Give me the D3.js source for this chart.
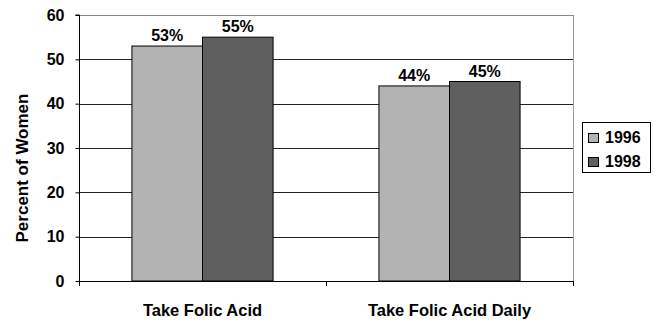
<!DOCTYPE html>
<html><head><meta charset="utf-8">
<script src="https://cdn.jsdelivr.net/npm/d3@7"></script>
<style>
body{margin:0;background:#fff;}
svg{display:block;font-family:"Liberation Sans",Arial,sans-serif;font-weight:bold;}
</style></head>
<body><svg id="c" width="654" height="320"></svg>
<script>
const categories = ["Take Folic Acid", "Take Folic Acid Daily"];
const seriesNames = ["1996", "1998"];
const values1996 = [53, 44];
const values1998 = [55, 45];
const yTicks = [0, 10, 20, 30, 40, 50, 60];
const colors = ["#b3b3b3", "#5f5f5f"];

const seriesVals = [values1996, values1998];
const svg = d3.select("#c");
const L = 79, R = 573, T = 15, B = 281;
const y = d3.scaleLinear().domain([0, 60]).range([B, T]);
const x = d3.scaleBand().domain(categories).range([L, R]).paddingInner(0).paddingOuter(0);
const xs = d3.scaleBand().domain(seriesNames).range([0, x.bandwidth()]).paddingInner(0).paddingOuter(0.75);

// gridlines
svg.append("g").selectAll("line").data(yTicks.filter(d => d > 0)).join("line")
  .attr("x1", L).attr("x2", R)
  .attr("y1", d => Math.round(y(d)) + 0.5).attr("y2", d => Math.round(y(d)) + 0.5)
  .attr("stroke", d => d === 60 ? "#888" : "#222").attr("stroke-width", 1);
// right border
svg.append("line").attr("x1", R + 0.5).attr("x2", R + 0.5).attr("y1", T).attr("y2", B)
  .attr("stroke", "#999");

// bars
const groups = svg.append("g").selectAll("g").data(categories).join("g")
  .attr("transform", d => `translate(${x(d)},0)`);
groups.selectAll("rect").data((c, i) => seriesNames.map((s, j) => ({s, v: seriesVals[j][i], j})))
  .join("rect")
  .attr("x", d => xs(d.s)).attr("width", xs.bandwidth())
  .attr("y", d => y(d.v)).attr("height", d => B - y(d.v))
  .attr("fill", d => colors[d.j]).attr("stroke", "#000").attr("stroke-width", 1);
groups.selectAll("text").data((c, i) => seriesNames.map((s, j) => ({s, v: seriesVals[j][i]})))
  .join("text")
  .attr("x", d => xs(d.s) + xs.bandwidth() / 2).attr("y", d => y(d.v) - 5)
  .attr("text-anchor", "middle").attr("font-size", 16).attr("fill", "#000")
  .text(d => d.v + "%");

// y axis
const yAxis = d3.axisLeft(y).tickValues(yTicks).tickSize(4).tickPadding(11);
const gy = svg.append("g").attr("transform", `translate(${L + 0.5},0)`).call(yAxis);
gy.select(".domain").attr("stroke", "#000").attr("d", `M-4,${T}H0V${B}`);
gy.selectAll(".tick line").attr("stroke", "#000");
gy.selectAll("text").attr("font-size", 16).attr("font-family", null).attr("font-weight", "bold").attr("fill", "#000");

// x axis
const xAxis = d3.axisBottom(x).tickSize(0).tickPadding(23);
const gx = svg.append("g").attr("transform", `translate(0,${B + 0.5})`).call(xAxis);
gx.select(".domain").attr("stroke", "#000").attr("d", `M${L},0H${R}`);
gx.selectAll("text").attr("font-size", 16.5).attr("font-family", null).attr("font-weight", "bold").attr("fill", "#000");
// category separator ticks
const sepX = [L, x(categories[1]), R];
svg.append("g").selectAll("line").data(sepX).join("line")
  .attr("x1", d => Math.round(d) + 0.5).attr("x2", d => Math.round(d) + 0.5)
  .attr("y1", B).attr("y2", B + 5).attr("stroke", "#000");

// y title
svg.append("text").attr("transform", "translate(28,168) rotate(-90)")
  .attr("text-anchor", "middle").attr("font-size", 17).attr("fill", "#000")
  .text("Percent of Women");

// legend
const lg = svg.append("g");
lg.append("rect").attr("x", 582.5).attr("y", 122.5).attr("width", 68).attr("height", 50)
  .attr("fill", "#fff").attr("stroke", "#000");
const li = lg.selectAll("g").data(seriesNames).join("g")
  .attr("transform", (d, i) => `translate(588,${133 + i * 24})`);
li.append("rect").attr("x", 0.5).attr("y", 0.5).attr("width", 10).attr("height", 9)
  .attr("fill", (d, i) => colors[i]).attr("stroke", "#000");
li.append("text").attr("x", 17).attr("y", 10).attr("font-size", 16).attr("fill", "#000").text(d => d);
</script></body></html>
